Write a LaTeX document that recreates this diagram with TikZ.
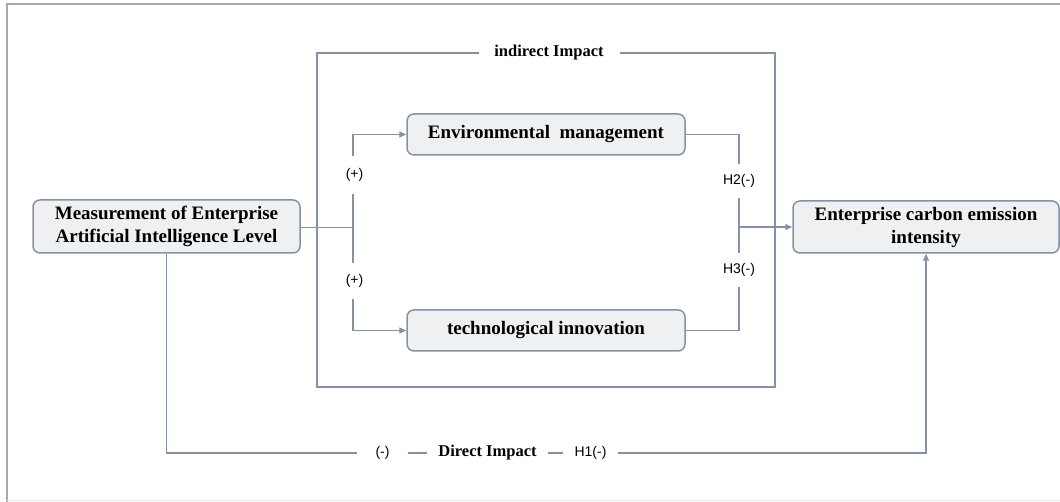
\documentclass[tikz,border=0pt]{standalone}
\usepackage{fontspec}
\setmainfont{Liberation Serif}
\newfontfamily\labfont{Liberation Sans}
\usetikzlibrary{arrows.meta}
\definecolor{edgec}{HTML}{8592A4}
\definecolor{boxfill}{HTML}{EFF0F2}
\definecolor{framec}{HTML}{A3AAB5}
\begin{document}
\begin{tikzpicture}[x=1pt,y=-1pt,
  box/.style={draw=edgec,line width=1.5pt,fill=boxfill,rounded corners=7pt,
    align=center,inner sep=0pt,font=\fontsize{19}{23}\selectfont\bfseries},
  conn/.style={draw=edgec,line width=1.5pt},
  tip/.style={-{Triangle[length=7pt,width=6pt]}},
  hlab/.style={fill=white,inner xsep=3pt,inner ysep=10pt,font=\labfont\fontsize{14}{16}\selectfont},
  blab/.style={fill=white,inner ysep=3pt,font=\fontsize{16.5}{19}\selectfont\bfseries},
  slab/.style={fill=white,inner ysep=3pt,font=\labfont\fontsize{14}{16}\selectfont}]
\useasboundingbox (0,0) rectangle (1060,502);
% page frame
\draw[framec,line width=2pt] (7,502) -- (7,4) -- (1060,4);
\draw[black!8,line width=1pt] (7,500.5) -- (1060,500.5);

% indirect-impact frame
\node[draw=edgec,line width=1.5pt,minimum width=458pt,minimum height=334pt,inner sep=0pt]
  (ind) at (546,220) {};
\node[blab,minimum width=141pt] (indlab) at (549,53) {indirect Impact};

% boxes
\node[box,minimum width=267pt,minimum height=53pt] (ai) at (166.5,226.5)
  {Measurement of Enterprise\\Artificial Intelligence Level};
\node[box,minimum width=278pt,minimum height=41pt] (env) at (546,134.5)
  {Environmental\ \ management};
\node[box,minimum width=278pt,minimum height=41pt] (tech) at (546,330.5)
  {technological innovation};
\node[box,minimum width=266pt,minimum height=52pt] (carb) at (926,227)
  {Enterprise carbon emission\\intensity};

% mediating paths
\coordinate (jl) at (353,227.5);
\coordinate (jr) at (739,227);
\draw[conn] (ai.east |- jl) -- (jl);
\draw[conn,tip] (jl) |- (env.west);
\draw[conn,tip] (jl) |- (tech.west);
\draw[conn] (env.east) -| (jr);
\draw[conn] (tech.east) -| (jr);
\draw[conn,tip] (jr) -- (carb.west |- jr);

\node[hlab,inner ysep=12pt] (p1) at (354.5,175) {(+)};
\node[hlab,inner ysep=11pt] (p2) at (354.5,281) {(+)};
\node[hlab] (h2) at (739,181) {H2(-)};
\node[hlab] (h3) at (739,270) {H3(-)};

% direct path
\coordinate (br) at (926,453);
\draw[conn,tip] (ai.south) |- (br) -- (carb.south);
\node[slab,minimum width=51pt] (m1) at (382.5,453) {(-)};
\node[blab,minimum width=121pt] (dlab) at (487.5,453) {Direct Impact};
\node[slab,minimum width=55pt] (h1) at (590.5,453) {H1(-)};
\end{tikzpicture}
\end{document}
